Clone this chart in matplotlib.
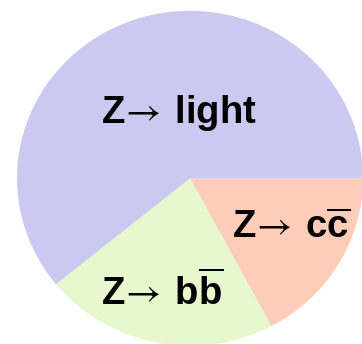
import matplotlib
matplotlib.use('Agg')
import matplotlib.pyplot as plt

# Z -> hadrons branching fractions (percent), clockwise from 3 o'clock
labels = [r'$\mathrm{Z}\!\mathsf{\rightarrow}\,\mathrm{c}\overline{\mathrm{c}}$',
          r'$\mathrm{Z}\!\mathsf{\rightarrow}\,\mathrm{b}\overline{\mathrm{b}}$',
          r'$\mathrm{Z}\!\mathsf{\rightarrow}\,\mathrm{light}$']
fractions = [17.2, 21.9, 60.9]
colors = ['#FECDB9', '#E7F7CE', '#CBC9EF']

# label anchors (left, baseline) in pie units
label_xy = [(0.240, -0.356), (-0.515, -0.756), (-0.515, 0.330)]

plt.rcParams['mathtext.fontset'] = 'custom'
plt.rcParams['mathtext.rm'] = 'Liberation Sans:bold'
plt.rcParams['mathtext.bf'] = 'Liberation Sans:bold'
plt.rcParams['mathtext.sf'] = 'STIXGeneral'

fig = plt.figure(figsize=(3.62, 3.44), dpi=100)
ax = fig.add_axes([17/362, -1.8/344, 346/362, 335/344])

ax.pie(fractions, colors=colors, startangle=0, counterclock=False,
       radius=1.0, wedgeprops=dict(linewidth=0))

ax.set_aspect('auto')
ax.set_xlim(-1, 1)
ax.set_ylim(-1, 1)
ax.axis('off')

for lab, (x, y) in zip(labels, label_xy):
    ax.text(x, y, lab, fontsize=27.5, ha='left', va='baseline', color='black')

fig.savefig('out.png', dpi=100)
